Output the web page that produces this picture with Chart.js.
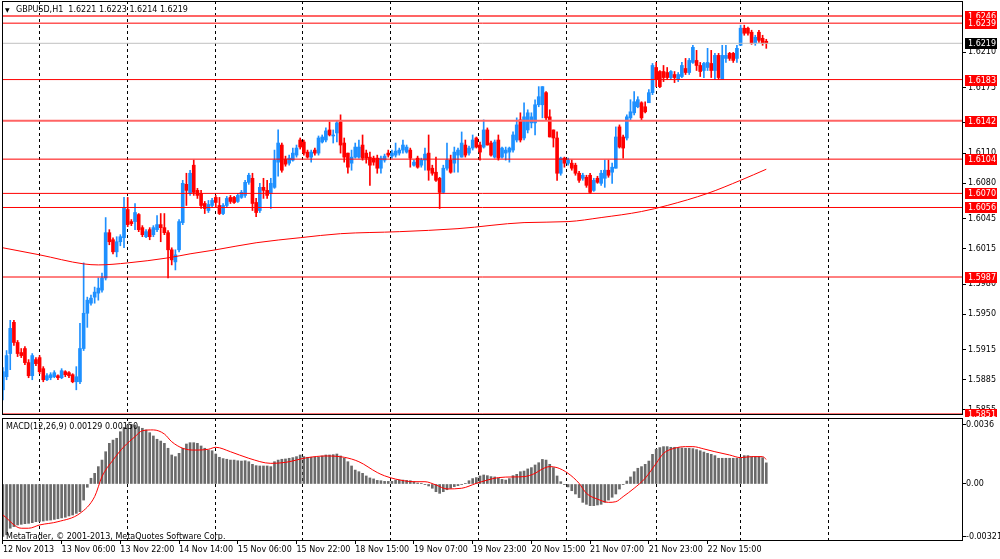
<!DOCTYPE html>
<html>
<head>
<meta charset="utf-8">
<title>GBPUSD,H1</title>
<script src="https://cdn.jsdelivr.net/npm/chart.js"></script>
<style>
  body { margin: 0; background: #fff; }
  #wrap { position: relative; width: 1000px; height: 559px; overflow: hidden; font-family: "DejaVu Sans"; }
  canvas { position: absolute; left: 0; }
  .t { position: absolute; font-size: 8px; line-height: 11px; color: #000; white-space: pre; }
</style>
</head>
<body>
<div id="wrap">
  <canvas id="main" width="1000" height="417" style="top:0"></canvas>
  <canvas id="macd" width="1000" height="143" style="top:416px"></canvas>
  <div class="t" style="left:5px;top:4px"><span style="display:inline-block;width:11px;font-size:6px">▼</span>GBPUSD,H1  1.6221 1.6223 1.6214 1.6219</div>
  <div class="t" style="left:6px;top:421px">MACD(12,26,9) 0.00129 0.00150</div>
  <div class="t" style="left:6px;top:531px">MetaTrader, © 2001-2013, MetaQuotes Software Corp.</div>
</div>
<script>
// GBPUSD H1 candles, one per hour from 12 Nov 2013 14:00
var open = [
  1.5875, 1.5888, 1.5911, 1.5942, 1.5922, 1.5912, 1.5916, 1.5902, 1.5889, 1.5905,
  1.5907, 1.5896, 1.5885, 1.5887, 1.5888, 1.5889, 1.5887, 1.5893, 1.5892, 1.5890,
  1.5883, 1.5883, 1.5916, 1.5951, 1.5961, 1.5967, 1.5971, 1.5974, 1.5986, 1.6031,
  1.6024, 1.6012, 1.6022, 1.6026, 1.6054, 1.6042, 1.6042, 1.6049, 1.6036, 1.6027,
  1.6034, 1.6029, 1.6034, 1.6039, 1.6036, 1.6031, 1.6014, 1.6002, 1.6014, 1.6041,
  1.6079, 1.6070, 1.6098, 1.6073, 1.6070, 1.6060, 1.6053, 1.6058, 1.6066, 1.6058,
  1.6050, 1.6058, 1.6066, 1.6066, 1.6062, 1.6066, 1.6068, 1.6081, 1.6085, 1.6061,
  1.6053, 1.6076, 1.6073, 1.6070, 1.6076, 1.6101, 1.6118, 1.6104, 1.6100, 1.6103,
  1.6108, 1.6123, 1.6121, 1.6111, 1.6106, 1.6113, 1.6110, 1.6121, 1.6123, 1.6133,
  1.6127, 1.6130, 1.6141, 1.6120, 1.6110, 1.6100, 1.6106, 1.6106, 1.6118, 1.6110,
  1.6106, 1.6105, 1.6105, 1.6095, 1.6103, 1.6110, 1.6107, 1.6108, 1.6110, 1.6113,
  1.6111, 1.6113, 1.6098, 1.6105, 1.6098, 1.6103, 1.6110, 1.6095, 1.6091, 1.6085,
  1.6071, 1.6095, 1.6103, 1.6100, 1.6108, 1.6106, 1.6118, 1.6110, 1.6115, 1.6125,
  1.6118, 1.6116, 1.6133, 1.6120, 1.6106, 1.6123, 1.6106, 1.6110, 1.6111, 1.6113,
  1.6123, 1.6143, 1.6125, 1.6133, 1.6140, 1.6140, 1.6158, 1.6158, 1.6170, 1.6146,
  1.6133, 1.6125, 1.6090, 1.6105, 1.6100, 1.6100, 1.6098, 1.6090, 1.6085, 1.6086,
  1.6088, 1.6073, 1.6085, 1.6080, 1.6085, 1.6093, 1.6091, 1.6095, 1.6136, 1.6126,
  1.6125, 1.6145, 1.6150, 1.6156, 1.6160, 1.6156, 1.6160, 1.6170, 1.6195, 1.6191,
  1.6191, 1.6190, 1.6185, 1.6188, 1.6183, 1.6186, 1.6194, 1.6190, 1.6200, 1.6202,
  1.6197, 1.6192, 1.6195, 1.6199, 1.6192, 1.6207, 1.6183, 1.6204, 1.6209, 1.6209,
  1.6204, 1.6217, 1.6234, 1.6234, 1.6230, 1.6219, 1.6230, 1.6224, 1.6221
];
var high = [
  1.5897, 1.5914, 1.5944, 1.5944, 1.5924, 1.5916, 1.5918, 1.5905, 1.5911, 1.5907,
  1.5909, 1.5898, 1.5891, 1.5892, 1.5894, 1.5890, 1.5896, 1.5894, 1.5893, 1.5891,
  1.5898, 1.5941, 1.6001, 1.5967, 1.5969, 1.5977, 1.5986, 1.5991, 1.6046, 1.6034,
  1.6026, 1.6027, 1.6029, 1.6066, 1.6066, 1.6044, 1.6060, 1.6050, 1.6038, 1.6034,
  1.6036, 1.6038, 1.6048, 1.6050, 1.6050, 1.6033, 1.6016, 1.6014, 1.6044, 1.6083,
  1.6090, 1.6093, 1.6103, 1.6075, 1.6073, 1.6062, 1.6063, 1.6065, 1.6068, 1.6066,
  1.6060, 1.6067, 1.6068, 1.6067, 1.6070, 1.6073, 1.6083, 1.6090, 1.6090, 1.6065,
  1.6080, 1.6085, 1.6083, 1.6085, 1.6113, 1.6133, 1.6120, 1.6107, 1.6108, 1.6115,
  1.6118, 1.6125, 1.6123, 1.6113, 1.6113, 1.6115, 1.6127, 1.6128, 1.6135, 1.6141,
  1.6133, 1.6142, 1.6148, 1.6125, 1.6110, 1.6113, 1.6120, 1.6123, 1.6128, 1.6113,
  1.6111, 1.6107, 1.6108, 1.6107, 1.6109, 1.6113, 1.6113, 1.6120, 1.6115, 1.6123,
  1.6118, 1.6115, 1.6103, 1.6107, 1.6105, 1.6115, 1.6128, 1.6098, 1.6106, 1.6086,
  1.6098, 1.6120, 1.6108, 1.6116, 1.6115, 1.6131, 1.6123, 1.6117, 1.6128, 1.6126,
  1.6121, 1.6143, 1.6135, 1.6122, 1.6123, 1.6128, 1.6116, 1.6116, 1.6116, 1.6131,
  1.6145, 1.6150, 1.6160, 1.6153, 1.6150, 1.6163, 1.6176, 1.6176, 1.6171, 1.6153,
  1.6133, 1.6131, 1.6106, 1.6106, 1.6105, 1.6103, 1.6100, 1.6092, 1.6090, 1.6088,
  1.6090, 1.6085, 1.6087, 1.6093, 1.6103, 1.6103, 1.6100, 1.6136, 1.6138, 1.6128,
  1.6148, 1.6163, 1.6171, 1.6166, 1.6161, 1.6161, 1.6173, 1.6199, 1.6200, 1.6192,
  1.6197, 1.6195, 1.6192, 1.6191, 1.6190, 1.6200, 1.6204, 1.6204, 1.6217, 1.6212,
  1.6200, 1.6200, 1.6214, 1.6212, 1.6209, 1.6209, 1.6217, 1.6217, 1.6210, 1.6210,
  1.6217, 1.6237, 1.6237, 1.6235, 1.6232, 1.6227, 1.6232, 1.6227, 1.6223
];
var low = [
  1.5865, 1.5885, 1.5895, 1.5919, 1.5908, 1.5907, 1.5900, 1.5887, 1.5885, 1.5899,
  1.5891, 1.5883, 1.5884, 1.5885, 1.5887, 1.5885, 1.5886, 1.5888, 1.5887, 1.5882,
  1.5875, 1.5881, 1.5914, 1.5937, 1.5959, 1.5961, 1.5964, 1.5972, 1.5984, 1.6019,
  1.6010, 1.6007, 1.6018, 1.6016, 1.6037, 1.6038, 1.6034, 1.6032, 1.6027, 1.6026,
  1.6024, 1.6027, 1.6032, 1.6022, 1.6029, 1.5986, 1.5999, 1.5994, 1.6012, 1.6039,
  1.6058, 1.6068, 1.6068, 1.6065, 1.6055, 1.6050, 1.6051, 1.6056, 1.6056, 1.6049,
  1.6049, 1.6056, 1.6060, 1.6060, 1.6061, 1.6065, 1.6066, 1.6079, 1.6053, 1.6047,
  1.6051, 1.6065, 1.6065, 1.6055, 1.6075, 1.6087, 1.6091, 1.6097, 1.6098, 1.6102,
  1.6106, 1.6114, 1.6108, 1.6105, 1.6101, 1.6108, 1.6108, 1.6120, 1.6121, 1.6127,
  1.6120, 1.6121, 1.6110, 1.6101, 1.6090, 1.6093, 1.6105, 1.6105, 1.6103, 1.6100,
  1.6078, 1.6098, 1.6090, 1.6090, 1.6101, 1.6106, 1.6105, 1.6106, 1.6108, 1.6110,
  1.6110, 1.6096, 1.6097, 1.6095, 1.6096, 1.6093, 1.6083, 1.6088, 1.6082, 1.6055,
  1.6070, 1.6093, 1.6090, 1.6091, 1.6091, 1.6106, 1.6106, 1.6108, 1.6113, 1.6115,
  1.6103, 1.6115, 1.6118, 1.6107, 1.6105, 1.6103, 1.6105, 1.6103, 1.6101, 1.6111,
  1.6121, 1.6121, 1.6123, 1.6130, 1.6135, 1.6128, 1.6156, 1.6145, 1.6143, 1.6126,
  1.6116, 1.6083, 1.6088, 1.6096, 1.6098, 1.6093, 1.6088, 1.6081, 1.6083, 1.6076,
  1.6070, 1.6072, 1.6080, 1.6078, 1.6076, 1.6086, 1.6080, 1.6095, 1.6115, 1.6105,
  1.6123, 1.6143, 1.6148, 1.6155, 1.6143, 1.6150, 1.6160, 1.6168, 1.6176, 1.6175,
  1.6181, 1.6183, 1.6183, 1.6180, 1.6181, 1.6185, 1.6188, 1.6188, 1.6199, 1.6192,
  1.6186, 1.6185, 1.6192, 1.6185, 1.6183, 1.6183, 1.6183, 1.6200, 1.6202, 1.6200,
  1.6200, 1.6217, 1.6227, 1.6227, 1.6218, 1.6217, 1.6220, 1.6217, 1.6214
];
var close = [
  1.5893, 1.5909, 1.5936, 1.5922, 1.5911, 1.5909, 1.5902, 1.5889, 1.5909, 1.5901,
  1.5893, 1.5885, 1.5889, 1.5890, 1.5892, 1.5887, 1.5894, 1.5890, 1.5889, 1.5883,
  1.5888, 1.5916, 1.5951, 1.5964, 1.5966, 1.5972, 1.5976, 1.5986, 1.6031, 1.6022,
  1.6012, 1.6022, 1.6027, 1.6056, 1.6039, 1.6040, 1.6051, 1.6034, 1.6029, 1.6032,
  1.6027, 1.6036, 1.6039, 1.6036, 1.6031, 1.6014, 1.6004, 1.6009, 1.6042, 1.6080,
  1.6073, 1.6090, 1.6071, 1.6068, 1.6058, 1.6055, 1.6059, 1.6063, 1.6061, 1.6050,
  1.6058, 1.6065, 1.6062, 1.6061, 1.6068, 1.6071, 1.6081, 1.6088, 1.6060, 1.6051,
  1.6076, 1.6073, 1.6068, 1.6080, 1.6103, 1.6120, 1.6093, 1.6099, 1.6105, 1.6110,
  1.6115, 1.6116, 1.6110, 1.6106, 1.6111, 1.6110, 1.6125, 1.6126, 1.6132, 1.6128,
  1.6128, 1.6140, 1.6118, 1.6106, 1.6096, 1.6106, 1.6116, 1.6116, 1.6105, 1.6105,
  1.6098, 1.6101, 1.6095, 1.6105, 1.6107, 1.6108, 1.6110, 1.6112, 1.6113, 1.6118,
  1.6116, 1.6105, 1.6101, 1.6096, 1.6103, 1.6109, 1.6093, 1.6090, 1.6083, 1.6071,
  1.6095, 1.6103, 1.6091, 1.6111, 1.6113, 1.6120, 1.6108, 1.6115, 1.6123, 1.6116,
  1.6111, 1.6133, 1.6118, 1.6108, 1.6121, 1.6105, 1.6115, 1.6113, 1.6115, 1.6128,
  1.6138, 1.6123, 1.6146, 1.6150, 1.6146, 1.6158, 1.6166, 1.6176, 1.6145, 1.6126,
  1.6125, 1.6090, 1.6105, 1.6100, 1.6103, 1.6095, 1.6090, 1.6083, 1.6088, 1.6078,
  1.6071, 1.6083, 1.6081, 1.6090, 1.6093, 1.6088, 1.6096, 1.6126, 1.6116, 1.6115,
  1.6146, 1.6151, 1.6161, 1.6163, 1.6145, 1.6151, 1.6170, 1.6197, 1.6183, 1.6176,
  1.6185, 1.6185, 1.6191, 1.6185, 1.6188, 1.6197, 1.6190, 1.6202, 1.6215, 1.6197,
  1.6191, 1.6199, 1.6200, 1.6192, 1.6207, 1.6185, 1.6207, 1.6207, 1.6204, 1.6202,
  1.6214, 1.6234, 1.6229, 1.6229, 1.6219, 1.6225, 1.6222, 1.6219, 1.6219
];

// moving average (red curve) read at a few bars
var maAt  = [0, 10, 22, 26, 34, 45, 51, 58, 69, 81, 92, 108, 124, 142, 154, 163, 174, 181, 192, 201, 208];
var maVal = [1.6016, 1.6009, 1.6000, 1.5999, 1.6001, 1.6006, 1.6010, 1.6014, 1.6021, 1.6026, 1.6030,
             1.6032, 1.6035, 1.6041, 1.6042, 1.6046, 1.6052, 1.6058, 1.6070, 1.6083, 1.6094];

// MACD(12,26,9) histogram, one per bar
var macdHist = [
  -0.0032, -0.0031, -0.0027, -0.0026, -0.0025, -0.00246, -0.00242, -0.0024, -0.00236, -0.0023,
  -0.00228, -0.00226, -0.00222, -0.0022, -0.00216, -0.00212, -0.00207, -0.00203, -0.00195, -0.00189,
  -0.00179, -0.00169, -0.00098, -0.0002, 0.00035, 0.00065, 0.00106, 0.00146, 0.00197, 0.00248,
  0.00268, 0.00279, 0.00319, 0.00346, 0.0036, 0.00364, 0.0036, 0.0035, 0.0034, 0.0033,
  0.00313, 0.00293, 0.00273, 0.00262, 0.00248, 0.00218, 0.00177, 0.00167, 0.00187, 0.00218,
  0.00244, 0.00252, 0.00252, 0.00248, 0.00232, 0.00218, 0.00207, 0.00203, 0.00183, 0.00163,
  0.00155, 0.00151, 0.00146, 0.00146, 0.00142, 0.0014, 0.00142, 0.00136, 0.0012, 0.00112,
  0.0011, 0.0011, 0.0011, 0.00106, 0.00136, 0.00146, 0.00151, 0.00153, 0.00157, 0.00161,
  0.00167, 0.00177, 0.00167, 0.00163, 0.00163, 0.00163, 0.00163, 0.00171, 0.00177, 0.00177,
  0.00179, 0.00183, 0.00171, 0.00157, 0.00136, 0.0011, 0.00085, 0.00075, 0.00065, 0.00049,
  0.00037, 0.00031, 0.00022, 0.0002, 0.00016, 0.00016, 0.00016, 0.00024, 0.00024, 0.00024,
  0.00022, 0.0002, 0.00014, 0.00006, 0.00002, -0.00002, -0.00012, -0.00026, -0.00047, -0.00057,
  -0.00047, -0.00035, -0.00026, -0.00016, -0.0001, -0.00002, 0.00004, 0.0002, 0.00033, 0.00039,
  0.00049, 0.00055, 0.00051, 0.00045, 0.00043, 0.00035, 0.00028, 0.00024, 0.00033, 0.00051,
  0.00059, 0.00075, 0.00079, 0.00092, 0.001, 0.00116, 0.0013, 0.0015, 0.00146, 0.0012,
  0.001, 0.00049, 0.00014, -0.00002, -0.00018, -0.00041, -0.00061, -0.00083, -0.00112, -0.00124,
  -0.00132, -0.00132, -0.00128, -0.00124, -0.00112, -0.00098, -0.00081, -0.00061, -0.00031, -0.00002,
  0.00018, 0.00043, 0.00075, 0.00096, 0.00106, 0.0012, 0.0014, 0.00181, 0.00212, 0.00222,
  0.00228, 0.00228, 0.00224, 0.00224, 0.00222, 0.0022, 0.00218, 0.00218, 0.00216, 0.0021,
  0.00203, 0.00195, 0.00187, 0.00181, 0.00173, 0.00157, 0.00157, 0.00157, 0.00157, 0.00157,
  0.00157, 0.00161, 0.00173, 0.00173, 0.00167, 0.00167, 0.00167, 0.00161, 0.00129
];
// signal line read at a few bars
var signalAt  = [0, 5, 7, 10, 15, 21, 25, 27, 30, 33, 36, 38, 41, 44, 46, 49, 52, 56, 58, 62, 67, 73, 77,
                 83, 88, 93, 97, 102, 104, 107, 112, 115, 118, 121, 125, 129, 132, 135, 139, 142, 145,
                 147, 149, 151, 154, 157, 159, 162, 165, 167, 169, 172, 175, 178, 180, 183, 186, 188,
                 191, 194, 198, 201, 204, 207, 208];
var signalVal = [-0.00189, -0.0027, -0.0027, -0.0025, -0.0023, -0.00179, -0.00077, 0.00045, 0.00146,
                 0.00228, 0.00289, 0.00325, 0.0033, 0.00305, 0.00258, 0.00218, 0.00207, 0.00212, 0.00224,
                 0.00197, 0.00157, 0.00126, 0.00132, 0.00161, 0.00171, 0.00163, 0.00136, 0.0007, 0.0005,
                 0.0003, 0.00014, 0.00014, -0.00006, -0.0003, -0.00026, 0.00004, 0.00024, 0.00039,
                 0.00043, 0.00045, 0.00065, 0.00092, 0.00106, 0.001, 0.00065, 0.00004, -0.00057,
                 -0.00092, -0.00112, -0.00108, -0.00077, -0.00026, 0.00035, 0.00126, 0.00187, 0.00218,
                 0.00228, 0.00228, 0.00214, 0.00197, 0.00177, 0.00161, 0.00167, 0.00167, 0.0015];

// horizontal levels and the bid line
var levels = [1.6246, 1.6239, 1.6183, 1.6142, 1.6104, 1.6070, 1.6056, 1.5987, 1.5851];
var levelWidth = [2, 1, 1, 2, 1, 1, 1, 1, 1];
var bidPrice = 1.6219;

// axis labels
var priceTicks = [1.6210, 1.6175, 1.6140, 1.6110, 1.6080, 1.6045, 1.6015, 1.5980, 1.5950, 1.5915, 1.5885, 1.5855];
var macdTicks = [0.0036, 0, -0.00321];
var macdTickText = ['0.0036', '0.00', '-0.00321'];
var timeLabels = ['12 Nov 2013', '13 Nov 06:00', '13 Nov 22:00', '14 Nov 14:00', '15 Nov 06:00',
                  '15 Nov 22:00', '18 Nov 15:00', '19 Nov 07:00', '19 Nov 23:00', '20 Nov 15:00',
                  '21 Nov 07:00', '21 Nov 23:00', '22 Nov 15:00'];
var labelAt = [0, 16, 32, 48, 64, 80, 96, 112, 128, 144, 160, 176, 192];
var gridAt = [10, 34, 58, 81.5, 105.5, 129.5, 153.5, 178, 201, 225];

var X_MIN = -0.245, X_MAX = 261.6;
var P_MIN = 1.5850, P_MAX = 1.6261;
var M_MIN = -0.003478, M_MAX = 0.004027;
var BLUE = '#1e90ff', RED = '#ff0000';

Chart.defaults.font.family = 'DejaVu Sans';
Chart.defaults.font.size = 8;
Chart.defaults.color = '#000';

var framePlugin = {
  id: 'frame',
  afterDraw: function(chart) {
    var a = chart.chartArea, ctx = chart.ctx;
    ctx.save();
    ctx.strokeStyle = '#000';
    ctx.lineWidth = 1;
    ctx.strokeRect(a.left + 0.5, a.top + 0.5, a.right - a.left - 1, a.bottom - a.top - 1);
    ctx.restore();
  }
};

function priceBox(ctx, x, py, v, fill) {
  var y = Math.round(py);
  ctx.fillStyle = fill;
  ctx.fillRect(x, y - 5, 32, 11);
  ctx.fillStyle = '#fff';
  ctx.fillText(v.toFixed(4), x + 3, y + 0.5);
}

var boxPlugin = {
  id: 'boxes',
  afterDraw: function(chart) {
    var ctx = chart.ctx, ys = chart.scales.y, x = chart.chartArea.right + 2;
    ctx.save();
    ctx.font = '8px "DejaVu Sans"';
    ctx.textBaseline = 'middle';
    ctx.textAlign = 'left';
    levels.forEach(function(v) { priceBox(ctx, x, ys.getPixelForValue(v), v, RED); });
    priceBox(ctx, x, ys.getPixelForValue(bidPrice), bidPrice, '#000');
    ctx.restore();
  }
};

// keep the plot boxes where the panels are: no label overhang padding
function noPad(s) { s.paddingTop = 0; s.paddingBottom = 0; s.paddingLeft = 0; s.paddingRight = 0; }
function fixedWidth(s) { s.width = 37; noPad(s); }

var bodies = [], wicks = [], colors = [];
for (var i = 0; i < close.length; i++) {
  bodies.push({x: i, y: [open[i], close[i]]});
  wicks.push({x: i, y: [low[i], high[i]]});
  colors.push(close[i] >= open[i] ? BLUE : RED);
}

var lineSets = levels.map(function(v, k) {
  return {
    type: 'line', data: [{x: X_MIN, y: v}, {x: X_MAX, y: v}],
    borderColor: levelWidth[k] > 1 ? '#ff6464' : RED, borderWidth: levelWidth[k], pointRadius: 0
  };
});
lineSets.push({
  type: 'line', data: [{x: X_MIN, y: bidPrice}, {x: X_MAX, y: bidPrice}],
  borderColor: '#c0c0c0', borderWidth: 1, pointRadius: 0
});
lineSets.push({
  type: 'line', data: maAt.map(function(a, k) { return {x: a, y: maVal[k]}; }),
  borderColor: RED, borderWidth: 1, pointRadius: 0, cubicInterpolationMode: 'monotone'
});

new Chart(document.getElementById('main'), {
  type: 'bar',
  data: {
    datasets: lineSets.concat([
      {data: bodies, backgroundColor: colors, barThickness: 3, grouped: false, minBarLength: 1, borderWidth: 0},
      {data: wicks, backgroundColor: colors, barThickness: 1, grouped: false, borderWidth: 0}
    ])
  },
  options: {
    responsive: false, animation: false, devicePixelRatio: 1, events: [],
    layout: {padding: {left: 2, top: 1, right: 0, bottom: 2}},
    plugins: {legend: {display: false}, tooltip: {enabled: false}},
    scales: {
      x: {
        type: 'linear', min: X_MIN, max: X_MAX, offset: false,
        afterBuildTicks: function(s) { s.ticks = gridAt.map(function(v) { return {value: v}; }); },
        afterFit: noPad,
        ticks: {display: false},
        grid: {color: '#000', drawTicks: false, offset: false},
        border: {display: false, dash: [3, 3]}
      },
      y: {
        position: 'right', min: P_MIN, max: P_MAX,
        afterBuildTicks: function(s) { s.ticks = priceTicks.map(function(v) { return {value: v}; }); },
        afterFit: fixedWidth,
        ticks: {autoSkip: false, padding: 2, color: '#000', callback: function(v) { return v.toFixed(4); }},
        grid: {drawOnChartArea: false, drawTicks: true, tickLength: 3, tickColor: '#000'},
        border: {display: false}
      }
    }
  },
  plugins: [framePlugin, boxPlugin]
});

new Chart(document.getElementById('macd'), {
  type: 'bar',
  data: {
    datasets: [
      {
        type: 'line', data: signalAt.map(function(a, k) { return {x: a, y: signalVal[k]}; }),
        borderColor: RED, borderWidth: 1, pointRadius: 0, cubicInterpolationMode: 'monotone'
      },
      {
        data: macdHist.map(function(v, k) { return {x: k, y: v}; }),
        backgroundColor: '#6a6a6a', barThickness: 2, grouped: false, borderWidth: 0
      }
    ]
  },
  options: {
    responsive: false, animation: false, devicePixelRatio: 1, events: [],
    layout: {padding: {left: 2, top: 2, right: 0, bottom: 0}},
    plugins: {legend: {display: false}, tooltip: {enabled: false}},
    scales: {
      x: {
        type: 'linear', position: 'bottom', min: X_MIN, max: X_MAX, offset: false,
        afterBuildTicks: function(s) { s.ticks = labelAt.map(function(v) { return {value: v}; }); },
        afterFit: function(s) { s.height = 18; noPad(s); },
        ticks: {autoSkip: false, maxRotation: 0, align: 'start', padding: 1, color: '#000',
                callback: function(v, k) { return timeLabels[k]; }},
        grid: {drawOnChartArea: false, drawTicks: true, tickLength: 3, tickColor: '#000', offset: false},
        border: {display: false}
      },
      xg: {
        type: 'linear', position: 'top', min: X_MIN, max: X_MAX, offset: false,
        afterBuildTicks: function(s) { s.ticks = gridAt.map(function(v) { return {value: v}; }); },
        afterFit: function(s) { s.height = 0; noPad(s); },
        ticks: {display: false},
        grid: {color: '#000', drawTicks: false, offset: false},
        border: {display: false, dash: [3, 3]}
      },
      y: {
        position: 'right', min: M_MIN, max: M_MAX,
        afterBuildTicks: function(s) { s.ticks = macdTicks.map(function(v) { return {value: v}; }); },
        afterFit: fixedWidth,
        ticks: {autoSkip: false, padding: 0, color: '#000', callback: function(v, k) { return macdTickText[k]; }},
        grid: {drawOnChartArea: false, drawTicks: true, tickLength: 3, tickColor: '#000'},
        border: {display: false}
      }
    }
  },
  plugins: [framePlugin]
});
</script>
</body>
</html>
